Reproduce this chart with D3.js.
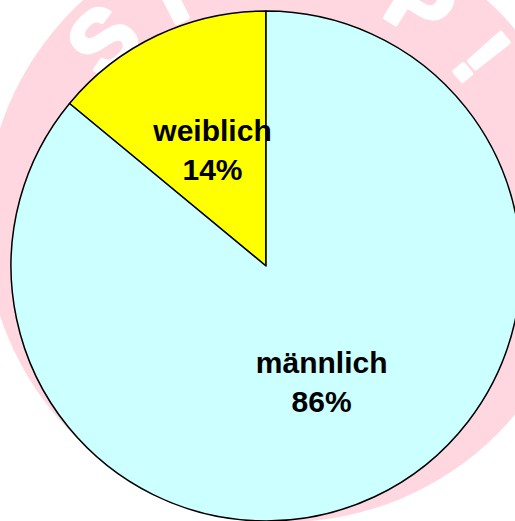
<!DOCTYPE html>
<html>
<head>
<meta charset="utf-8">
<script src="https://cdn.jsdelivr.net/npm/d3@7"></script>
<style>
  html, body { margin: 0; padding: 0; background: #fff; overflow: hidden; }
  svg { display: block; }
</style>
</head>
<body>
<div id="chart"></div>
<script>
// data
const categories = ["weiblich", "männlich"];
const shares = [14, 86];
const labels = ["14%", "86%"];
const colors = ["#ffff00", "#ccffff"];

// background stamp letters and their angle on the ring (degrees)
const stampLetters = ["S", "T", "O", "P", "!"];
const stampAngles = [-45, -27, 2, 32, 50];

const width = 515, height = 521;
const cx = 266, cy = 266, radius = 255;
// label distance from centre, as share of radius
const labelRadius = [0.465, 0.54];

const svg = d3.select("#chart")
    .append("svg")
    .attr("width", width)
    .attr("height", height);

// faint "STOP!" stamp behind the pie
const stamp = svg.append("g")
    .attr("transform", "translate(285,222)");

stamp.append("circle")
    .attr("r", 300)
    .style("fill", "#ffd7e0");

stamp.selectAll("text")
    .data(stampLetters)
    .enter()
    .append("text")
    .attr("transform", (d, i) => `rotate(${stampAngles[i]}) translate(0,-258)`)
    .attr("text-anchor", "middle")
    .attr("dy", "0.36em")
    .style("font-family", "Liberation Sans, Arial, sans-serif")
    .style("font-weight", "bold")
    .style("font-size", "88px")
    .style("fill", "#ffffff")
    .style("stroke", "#ffffff")
    .style("stroke-width", 4)
    .style("stroke-linejoin", "round")
    .text((d) => d);

// pie
const total = d3.sum(shares);
const start = -2 * Math.PI * shares[0] / total;

const pie = d3.pie()
    .sort(null)
    .startAngle(start)
    .endAngle(start + 2 * Math.PI);

const arcs = pie(shares);

const arc = d3.arc()
    .innerRadius(0)
    .outerRadius(radius);

const group = svg.append("g")
    .attr("transform", `translate(${cx},${cy})`);

group.selectAll("path")
    .data(arcs)
    .enter()
    .append("path")
    .attr("d", arc)
    .style("fill", (d, i) => colors[i])
    .style("stroke", "#000")
    .style("stroke-width", 1.5)
    .style("stroke-linejoin", "round");

// labels
const label = group.selectAll("g.label")
    .data(arcs)
    .enter()
    .append("g")
    .attr("class", "label")
    .attr("transform", (d, i) => {
        const r = radius * labelRadius[i];
        const c = d3.arc().innerRadius(r).outerRadius(r).centroid(d);
        return `translate(${c[0] - 3},${c[1] + 1})`;
    })
    .style("font-family", "Liberation Sans, Arial, sans-serif")
    .style("font-weight", "bold")
    .style("font-size", "30px")
    .attr("text-anchor", "middle")
    .style("fill", "#000");

label.append("text")
    .attr("y", -19)
    .text((d, i) => categories[i]);

label.append("text")
    .attr("y", 20)
    .text((d, i) => labels[i]);
</script>
</body>
</html>
